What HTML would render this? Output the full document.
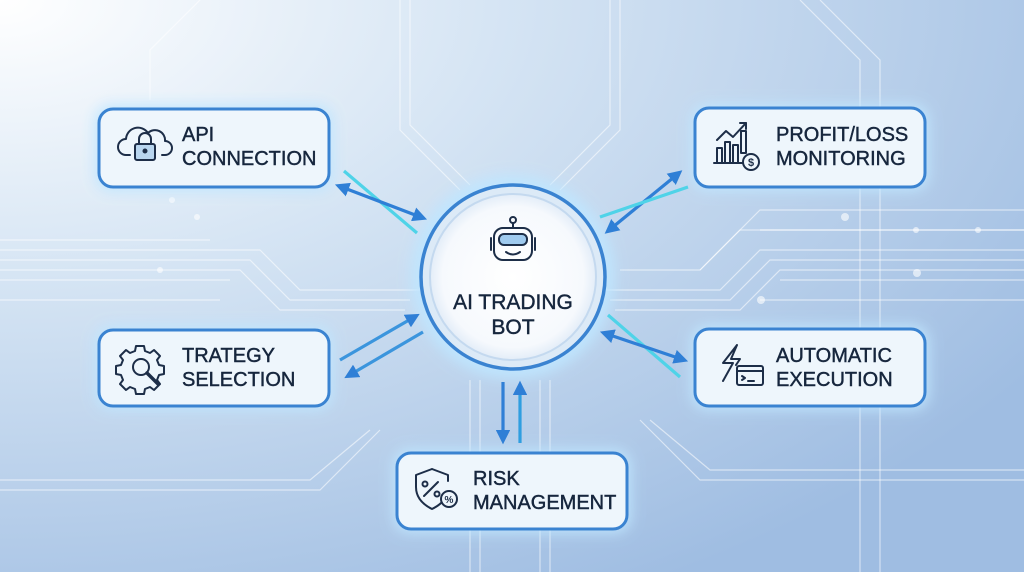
<!DOCTYPE html>
<html><head><meta charset="utf-8"><style>
html,body{margin:0;padding:0}
body{width:1024px;height:572px;overflow:hidden;font-family:"Liberation Sans",sans-serif}
</style></head><body>
<svg width="1024" height="572" viewBox="0 0 1024 572" xmlns="http://www.w3.org/2000/svg">
<defs>
<radialGradient id="bg" cx="0" cy="0" r="1.2" gradientUnits="objectBoundingBox">
<stop offset="0" stop-color="#ffffff"/><stop offset="0.4" stop-color="#d6e5f4"/><stop offset="1" stop-color="#9fbde2"/>
</radialGradient>
<radialGradient id="cg" cx="0.5" cy="0.5" r="0.5">
<stop offset="0" stop-color="#ffffff"/><stop offset="0.85" stop-color="#f6f9fd"/><stop offset="1" stop-color="#e3edf8"/>
</radialGradient>
<filter id="glow" x="-30%" y="-30%" width="160%" height="160%"><feGaussianBlur stdDeviation="7"/></filter>
<marker id="ah" viewBox="0 0 10 10" refX="7" refY="5" markerWidth="4.5" markerHeight="4.5" orient="auto-start-reverse"><path d="M0,0 L10,5 L0,10 z" fill="#2f7fd6"/></marker>
</defs>
<rect width="1024" height="572" fill="url(#bg)"/>
<g stroke="#ffffff" stroke-opacity="0.55" stroke-width="1.2" fill="none">
<path d="M600,290 H720 L760,250 H1024"/><path d="M610,300 H730 L770,260 H1024"/><path d="M615,310 H740 L780,270 H1024"/>
<path d="M620,270 H700 L740,230 H1024"/><path d="M700,270 L760,210 H1024"/>
<path d="M760,230 H1024"/><path d="M780,280 H1024"/><path d="M760,300 H1024"/>
<path d="M420,290 H300 L260,250 H0"/><path d="M410,300 H290 L250,260 H0"/><path d="M405,310 H280 L240,270 H0"/>
<path d="M0,280 H230"/><path d="M0,240 H210"/><path d="M0,300 H220"/>
<path d="M470,380 V572"/><path d="M480,380 V572"/><path d="M540,380 V572"/><path d="M550,380 V572"/>
<path d="M460,190 L400,130 V0"/><path d="M470,185 L410,125 V0"/><path d="M560,190 L620,130 V0"/><path d="M550,185 L610,125 V0"/>
<path d="M640,420 L700,480 H1024"/><path d="M650,420 L710,470 H1024"/><path d="M380,430 L320,490 H0"/><path d="M370,430 L310,480 H0"/>
<path d="M800,0 L860,60 V572"/><path d="M820,0 L880,60 V572"/><path d="M200,0 L150,50 V100"/>
</g>
<g fill="#ffffff" opacity="0.6"><circle cx="845" cy="217" r="4"/><circle cx="917" cy="273" r="4"/><circle cx="761" cy="300" r="4"/><circle cx="916" cy="230" r="3"/><circle cx="172" cy="200" r="3"/><circle cx="197" cy="217" r="3"/><circle cx="160" cy="270" r="3"/><circle cx="978" cy="230" r="3"/></g>
<g filter="url(#glow)" fill="#bfe6ff" opacity="0.95">
<rect x="95" y="105" width="238" height="86" rx="16"/><rect x="691" y="104" width="238" height="87" rx="16"/>
<rect x="95" y="326" width="238" height="84" rx="16"/><rect x="691" y="325" width="238" height="85" rx="16"/>
<rect x="393" y="449" width="238" height="84" rx="16"/><circle cx="513" cy="277" r="102"/>
</g>
<circle cx="513" cy="277" r="92" fill="#dceaf7" stroke="#3a83d1" stroke-width="3.5"/>
<circle cx="513" cy="277" r="83" fill="url(#cg)" stroke="#c4d9ef" stroke-width="2"/>
<g fill="#eef6fc" stroke="#3a83d1" stroke-width="3">
<rect x="99" y="109" width="230" height="78" rx="14"/><rect x="695" y="108" width="230" height="79" rx="14"/>
<rect x="99" y="330" width="230" height="76" rx="14"/><rect x="695" y="329" width="230" height="77" rx="14"/>
<rect x="397" y="453" width="230" height="76" rx="14"/>
</g>
<g stroke-width="3.2" fill="none">
<line x1="344" y1="171" x2="417" y2="233" stroke="#4fd3e8"/>
<line x1="339" y1="186" x2="423" y2="218" stroke="#2f7fd6" marker-start="url(#ah)" marker-end="url(#ah)"/>
<line x1="608" y1="231" x2="679" y2="173" stroke="#2f7fd6" marker-start="url(#ah)" marker-end="url(#ah)"/>
<line x1="600" y1="217" x2="688" y2="187" stroke="#4fd3e8"/>
<line x1="608" y1="315" x2="680" y2="377" stroke="#4fd3e8"/>
<line x1="604" y1="333" x2="684" y2="360" stroke="#2f7fd6" marker-start="url(#ah)" marker-end="url(#ah)"/>
<line x1="340" y1="360" x2="416" y2="316" stroke="#3b95dd" marker-end="url(#ah)"/>
<line x1="423" y1="332" x2="348" y2="376" stroke="#3b95dd" marker-end="url(#ah)"/>
<line x1="503" y1="382" x2="503" y2="440" stroke="#2f7fd6" marker-end="url(#ah)"/>
<line x1="520" y1="443" x2="520" y2="385" stroke="#2f9ee0" marker-end="url(#ah)"/>
</g>
<g fill="none" stroke="#1d2e48" stroke-width="2" stroke-linecap="round" stroke-linejoin="round">
<path d="M130,155 h-4 a8,8 0 0 1 0,-16 a12,12 0 0 1 22,-6 a10,10 0 0 1 17,8 a7,7 0 0 1 0,14 h-3"/>
<rect x="135" y="144" width="20" height="16" rx="2" fill="#b9d6ef"/><path d="M139,144 v-5 a6,6 0 0 1 12,0 v5"/><circle cx="145" cy="151" r="1.5" fill="#1d2e48"/>
<path d="M714,163 h30"/><rect x="717" y="148" width="5" height="15"/><rect x="725" y="142" width="5" height="21"/><rect x="733" y="145" width="5" height="18"/><rect x="741" y="131" width="5" height="22"/>
<path d="M717,140 l9,-9 l7,6 l13,-14"/><path d="M740,123 h6 v6"/><circle cx="751" cy="162" r="8" fill="#eef6fc"/>
<circle cx="513" cy="220" r="3"/><path d="M513,223 v5"/><rect x="494" y="228" width="38" height="32" rx="9"/><rect x="499" y="234" width="28" height="11" rx="5" fill="#9fcaee"/><path d="M491,238 v12 M535,238 v12"/><path d="M506,252 q7,5 14,0"/>
<path d="M136,346 h8 l1,5 l5,2 l4,-3 l6,6 l-3,4 l2,5 l5,1 v8 l-5,1 l-2,5 l3,4 l-6,6 l-4,-3 l-5,2 l-1,5 h-8 l-1,-5 l-5,-2 l-4,3 l-6,-6 l3,-4 l-2,-5 l-5,-1 v-8 l5,-1 l2,-5 l-3,-4 l6,-6 l4,3 l5,-2 z"/>
<circle cx="141" cy="367" r="8" fill="#eef6fc"/><path d="M147,373 l11,11" stroke-width="3.5"/>
<path d="M737,345 l-14,18 h10 l-10,18 M737,345 l-6,14 h9 l-4,6"/><rect x="737" y="366" width="26" height="19" rx="2"/><path d="M737,371 h26 M742,376 l3,2 l-3,2 M748,381 h6"/>
<path d="M432,469 l-16,6 v12 q0,14 16,22 q6,-3 9,-6 M432,469 l16,6 v6"/><path d="M424,496 l14,-14"/><circle cx="425" cy="484" r="2.5"/><circle cx="437" cy="494" r="2.5"/><circle cx="449" cy="499" r="8" fill="#eef6fc"/>
</g>
<text x="751" y="166" font-size="11" text-anchor="middle" fill="#1d2e48" font-weight="bold">$</text>
<text x="449" y="503" font-size="10" text-anchor="middle" fill="#1d2e48" font-weight="bold">%</text>
<g fill="#16263d" stroke="#16263d" stroke-width="0.45" font-size="20">
<text x="182" y="141">API</text><text x="182" y="165">CONNECTION</text>
<text x="776" y="141">PROFIT/LOSS</text><text x="776" y="165">MONITORING</text>
<text x="182" y="362">TRATEGY</text><text x="182" y="386">SELECTION</text>
<text x="776" y="362">AUTOMATIC</text><text x="776" y="386">EXECUTION</text>
<text x="473" y="485">RISK</text><text x="473" y="509">MANAGEMENT</text>
<text x="513" y="309" text-anchor="middle" font-size="21">AI TRADING</text><text x="513" y="334" text-anchor="middle" font-size="21">BOT</text>
</g>
</svg>
</body></html>
